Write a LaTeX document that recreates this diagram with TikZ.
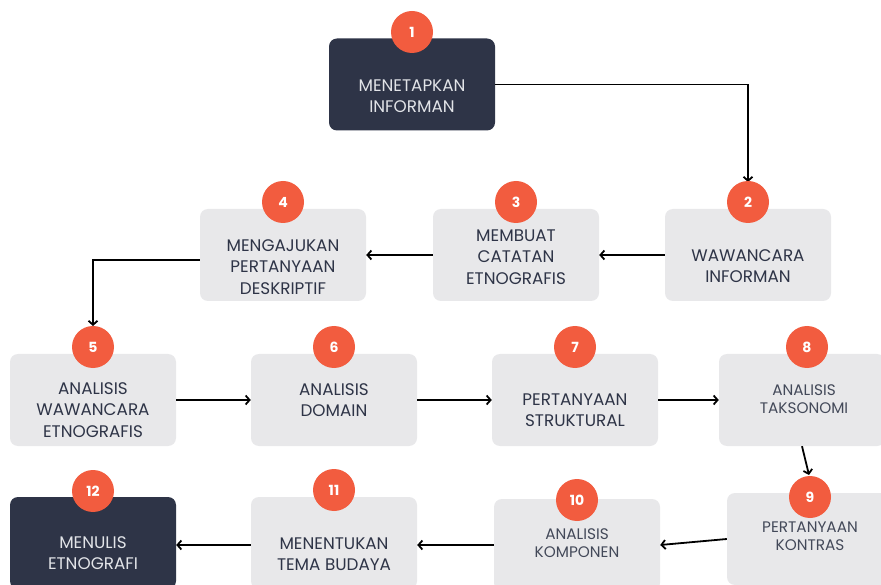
\documentclass[tikz,border=0pt]{standalone}
\usepackage{fontspec}
\setmainfont{Poppins}
\usetikzlibrary{arrows.meta}
\definecolor{darkbox}{HTML}{2E3447}
\definecolor{lightbox}{HTML}{E8E8EA}
\definecolor{badge}{HTML}{F25C3F}
\definecolor{darktext}{HTML}{2E3447}
\definecolor{softtext}{HTML}{434959}
\definecolor{lighttext}{HTML}{E2E4E8}
\tikzset{
  boxlight/.style={fill=lightbox, rounded corners=8pt, minimum width=166pt, minimum height=92pt, inner sep=0pt},
  boxdark/.style={fill=darkbox, rounded corners=8pt, minimum width=166pt, minimum height=92pt, inner sep=0pt},
  lbl/.style={align=center, text=darktext, font=\fontsize{16.8}{21.5}\selectfont},
  lblsmall/.style={align=center, text=softtext, font=\fontsize{15.3}{17.5}\selectfont},
  lbldark/.style={align=center, text=lighttext, font=\fontsize{16.8}{21.5}\selectfont},
  badgec/.style={circle, fill=badge, minimum size=42pt, inner sep=0pt, text=white, font=\fontsize{14}{14}\selectfont\bfseries},
  conn/.style={line width=1.8pt, draw=black, -{Straight Barb[length=4pt,width=9pt,line width=1.8pt]}}
}
\begin{document}
\begin{tikzpicture}[x=1pt,y=-1pt]
\useasboundingbox (0,0) rectangle (881,585);
\clip (0,0) rectangle (881,585);
\fill[white] (0,0) rectangle (881,585);
% boxes
\node[boxdark]  (b1)  at (412,84.5) {};
\node[boxlight] (b2)  at (748,255) {};
\node[boxlight] (b3)  at (516,255) {};
\node[boxlight] (b4)  at (283,255) {};
\node[boxlight] (b5)  at (93,400) {};
\node[boxlight] (b6)  at (334,400) {};
\node[boxlight] (b7)  at (575,400) {};
\node[boxlight] (b8)  at (802,400) {};
\node[boxlight] (b9)  at (810,539) {};
\node[boxlight] (b10) at (577,545) {};
\node[boxlight] (b11) at (334,543) {};
\node[boxdark]  (b12) at (93,543) {};
% texts
\node[lbldark]  (t1)  at (412,96)  {MENETAPKAN\\INFORMAN};
\node[lbl]      (t2)  at (748,266) {WAWANCARA\\INFORMAN};
\node[lbl]      (t3)  at (516,257) {MEMBUAT\\CATATAN\\ETNOGRAFIS};
\node[lbl]      (t4)  at (283,267) {MENGAJUKAN\\PERTANYAAN\\DESKRIPTIF};
\node[lbl]      (t5)  at (93,410)  {ANALISIS\\WAWANCARA\\ETNOGRAFIS};
\node[lbl]      (t6)  at (334,400) {ANALISIS\\DOMAIN};
\node[lbl]      (t7)  at (575,410) {PERTANYAAN\\STRUKTURAL};
\node[lblsmall] (t8)  at (804,399) {ANALISIS\\TAKSONOMI};
\node[lblsmall] (t9)  at (810,536) {PERTANYAAN\\KONTRAS};
\node[lblsmall] (t10) at (577,543) {ANALISIS\\KOMPONEN};
\node[lbl]      (t11) at (334,554) {MENENTUKAN\\TEMA BUDAYA};
\node[lbldark]  (t12) at (93,553)  {MENULIS\\ETNOGRAFI};
% connectors
\draw[conn] (b1.east) -| (748,182) coordinate (e12);
\draw[conn] (b2.west) -- (b3.east);
\draw[conn] (b3.west) -- (b4.east);
\draw[conn] ([yshift=-5pt]b4.west) -| (93,326) coordinate (e45);
\draw[conn] (b5.east) -- (b6.west);
\draw[conn] (b6.east) -- (b7.west);
\draw[conn] (b7.east) -- (b8.west);
\draw[conn] (b8.south) -- (809,475) coordinate (e89);
\draw[conn] (b9.west) -- (b10.east);
\draw[conn] (b10.west) -- (b10.west -| b11.east);
\draw[conn] ([yshift=-2pt]b11.west) -- ([yshift=-2pt]b11.west -| b12.east);
% badges
\node[badgec] (c1)  at (412,32)  {1};
\node[badgec] (c2)  at (748,202) {2};
\node[badgec] (c3)  at (516,202) {3};
\node[badgec] (c4)  at (283,202) {4};
\node[badgec] (c5)  at (93,347)  {5};
\node[badgec] (c6)  at (334,347) {6};
\node[badgec] (c7)  at (575,347) {7};
\node[badgec] (c8)  at (807,347) {8};
\node[badgec] (c9)  at (810,497) {9};
\node[badgec] (c10) at (577,500) {10};
\node[badgec] (c11) at (334,490) {11};
\node[badgec] (c12) at (93,491)  {12};
\end{tikzpicture}
\end{document}
